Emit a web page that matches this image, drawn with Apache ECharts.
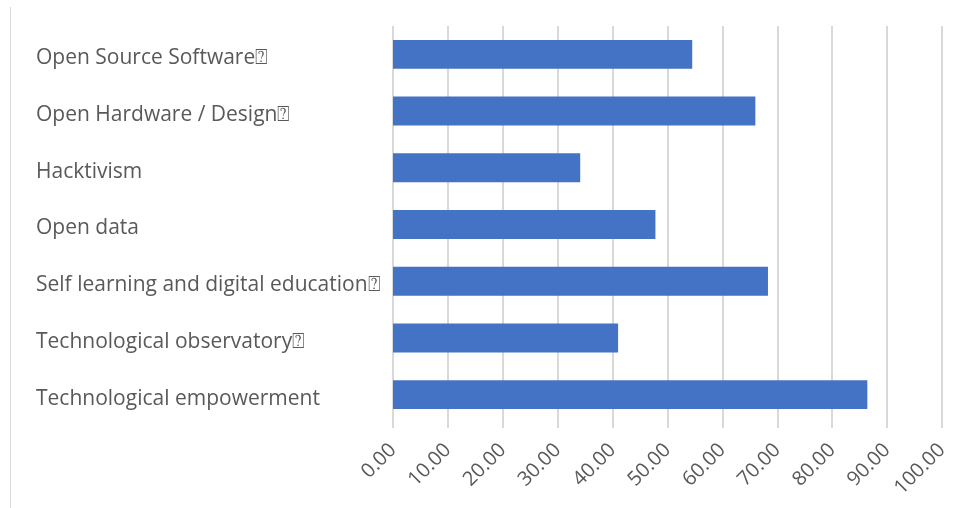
<!DOCTYPE html>
<html>
<head>
<meta charset="utf-8">
<script src="https://cdn.jsdelivr.net/npm/echarts@6/dist/echarts.min.js"></script>
<style>
  html, body { margin: 0; padding: 0; background: #fff; }
  #barChart { width: 958px; height: 508px; }
</style>
</head>
<body>
<div id="barChart"></div>
<script>
// categories, top to bottom as in the picture
var categories = [
  'Open Source Software\u2370',
  'Open Hardware / Design\u2370',
  'Hacktivism',
  'Open data',
  'Self learning and digital education\u2370',
  'Technological observatory\u2370',
  'Technological empowerment'
]
var values = [54.5, 66.0, 34.1, 47.8, 68.3, 41.0, 86.4]
var xTicks = { min: 0, max: 100, interval: 10 }

var myChart = echarts.init(document.getElementById('barChart'), null, { renderer: 'canvas' })

var option = {
  animation: false,
  textStyle: { fontFamily: 'Open Sans' },
  graphic: [
    {
      type: 'line',
      shape: { x1: 10.5, y1: 7, x2: 10.5, y2: 508 },
      style: { stroke: '#d9d9d9', lineWidth: 1 }
    }
  ],
  grid: {
    left: 393,
    right: 16,
    top: 26,
    bottom: 85
  },
  xAxis: {
    type: 'value',
    min: xTicks.min,
    max: xTicks.max,
    interval: xTicks.interval,
    axisLine: { show: false },
    axisTick: { show: true, length: 5, lineStyle: { color: '#d9d9d9', width: 2 } },
    splitLine: { show: true, lineStyle: { color: '#d9d9d9', width: 2 } },
    axisLabel: {
      rotate: 45,
      margin: 24,
      color: '#595959',
      fontSize: 20,
      fontFamily: 'Open Sans',
      formatter: function (v) { return v.toFixed(2) }
    }
  },
  yAxis: {
    type: 'category',
    inverse: true,
    data: categories,
    axisLine: { show: false },
    axisTick: { show: false },
    axisLabel: {
      align: 'left',
      margin: 357,
      formatter: function (v) { return '{c|' + v + '}' },
      rich: {
        c: {
          padding: [8, 0, 0, 0],
          color: '#595959',
          fontSize: 21,
          fontFamily: "'Open Sans', 'DejaVu Sans'"
        }
      }
    }
  },
  series: [
    {
      type: 'bar',
      data: values,
      barWidth: '51%',
      itemStyle: { color: '#4472c4' }
    }
  ]
}

myChart.setOption(option, true)
</script>
</body>
</html>
